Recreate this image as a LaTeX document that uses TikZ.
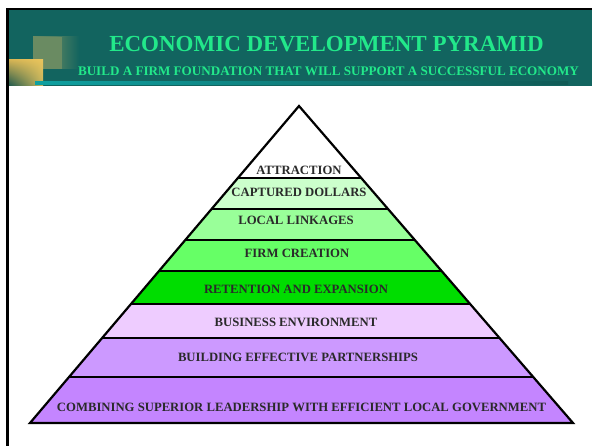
\documentclass[tikz,border=0pt]{standalone}
\usepackage{fontspec}
\setmainfont{Liberation Serif}
\usetikzlibrary{shadings}
\definecolor{headteal}{HTML}{12645F}
\definecolor{titlegreen}{HTML}{22E88A}
\definecolor{bargreen}{HTML}{0FA0A0}
\definecolor{olivegray}{HTML}{6A8B62}
\definecolor{sqyellow}{HTML}{E8C45C}
\definecolor{bandA}{HTML}{FFFFFF}
\definecolor{bandB}{HTML}{CCFFCC}
\definecolor{bandC}{HTML}{99FF99}
\definecolor{bandD}{HTML}{66FF66}
\definecolor{bandE}{HTML}{00DD00}
\definecolor{bandF}{HTML}{EECCFF}
\definecolor{bandG}{HTML}{CC99FF}
\definecolor{bandH}{HTML}{C485FF}
\definecolor{labeltext}{HTML}{2A2A2A}
\begin{document}
\begin{tikzpicture}[x=1pt,y=-1pt,
  lbl/.style={font=\fontsize{12.7}{14}\selectfont\bfseries, text=labeltext, inner sep=0pt},
  sepline/.style={line width=1.6pt, black},
  outline/.style={line width=2.2pt, black, line join=miter}]
\useasboundingbox (0,0) rectangle (592,446);
\fill[white] (0,0) rectangle (592,446);
% header band
\fill[headteal] (8,10) rectangle (592,86);
\shade[left color=olivegray, right color=headteal, middle color=olivegray!70!headteal] (33,37) rectangle (79,69);
\fill[olivegray] (33,37) rectangle (62,69);
\shade[upper right=sqyellow, upper left=sqyellow!90!black, lower right=sqyellow!85!headteal, lower left=headteal!80!black] (6,60) rectangle (43,86);
\shade[left color=bargreen, right color=headteal!90!black] (35,82) rectangle (568,84.8);
\fill[black] (6,8) rectangle (592,10.5);
\fill[black] (6,8) rectangle (8.8,446);
\node[anchor=base, font=\fontsize{23}{26}\selectfont\bfseries, text=titlegreen, inner sep=0pt] (title) at (326.5,52) {ECONOMIC DEVELOPMENT PYRAMID};
\node[anchor=base, font=\fontsize{13.1}{15}\selectfont\bfseries, text=titlegreen, inner sep=0pt] (subtitle) at (328.5,76) {BUILD A FIRM FOUNDATION THAT WILL SUPPORT A SUCCESSFUL ECONOMY};
% pyramid
\coordinate (apex) at (299,106);
\coordinate (bl) at (30,423);
\coordinate (br) at (573,423);
\begin{scope}
  \clip (apex) -- (bl) -- (br) -- cycle;
  \fill[bandA] (0,100) rectangle (600,178);
  \fill[bandB] (0,178) rectangle (600,209);
  \fill[bandC] (0,209) rectangle (600,240);
  \fill[bandD] (0,240) rectangle (600,271);
  \fill[bandE] (0,271) rectangle (600,304);
  \fill[bandF] (0,304) rectangle (600,338);
  \fill[bandG] (0,338) rectangle (600,377);
  \fill[bandH] (0,377) rectangle (600,424);
  \foreach \yy in {178,209,240,271,304,338,377} {
    \draw[sepline] (0,\yy) -- (600,\yy);
  }
\end{scope}
\draw[outline] (apex) -- (bl) -- (br) -- cycle;
\node[lbl] (l1) at (299,170.5) {ATTRACTION};
\node[lbl] (l2) at (299,192) {CAPTURED DOLLARS};
\node[lbl] (l3) at (296,220) {LOCAL LINKAGES};
\node[lbl] (l4) at (297,253.5) {FIRM CREATION};
\node[lbl] (l5) at (296,289) {RETENTION AND EXPANSION};
\node[lbl] (l6) at (296,322) {BUSINESS ENVIRONMENT};
\node[lbl] (l7) at (298,357) {BUILDING EFFECTIVE PARTNERSHIPS};
\node[lbl] (l8) at (301.5,407) {COMBINING SUPERIOR LEADERSHIP WITH EFFICIENT LOCAL GOVERNMENT};
\end{tikzpicture}
\end{document}
